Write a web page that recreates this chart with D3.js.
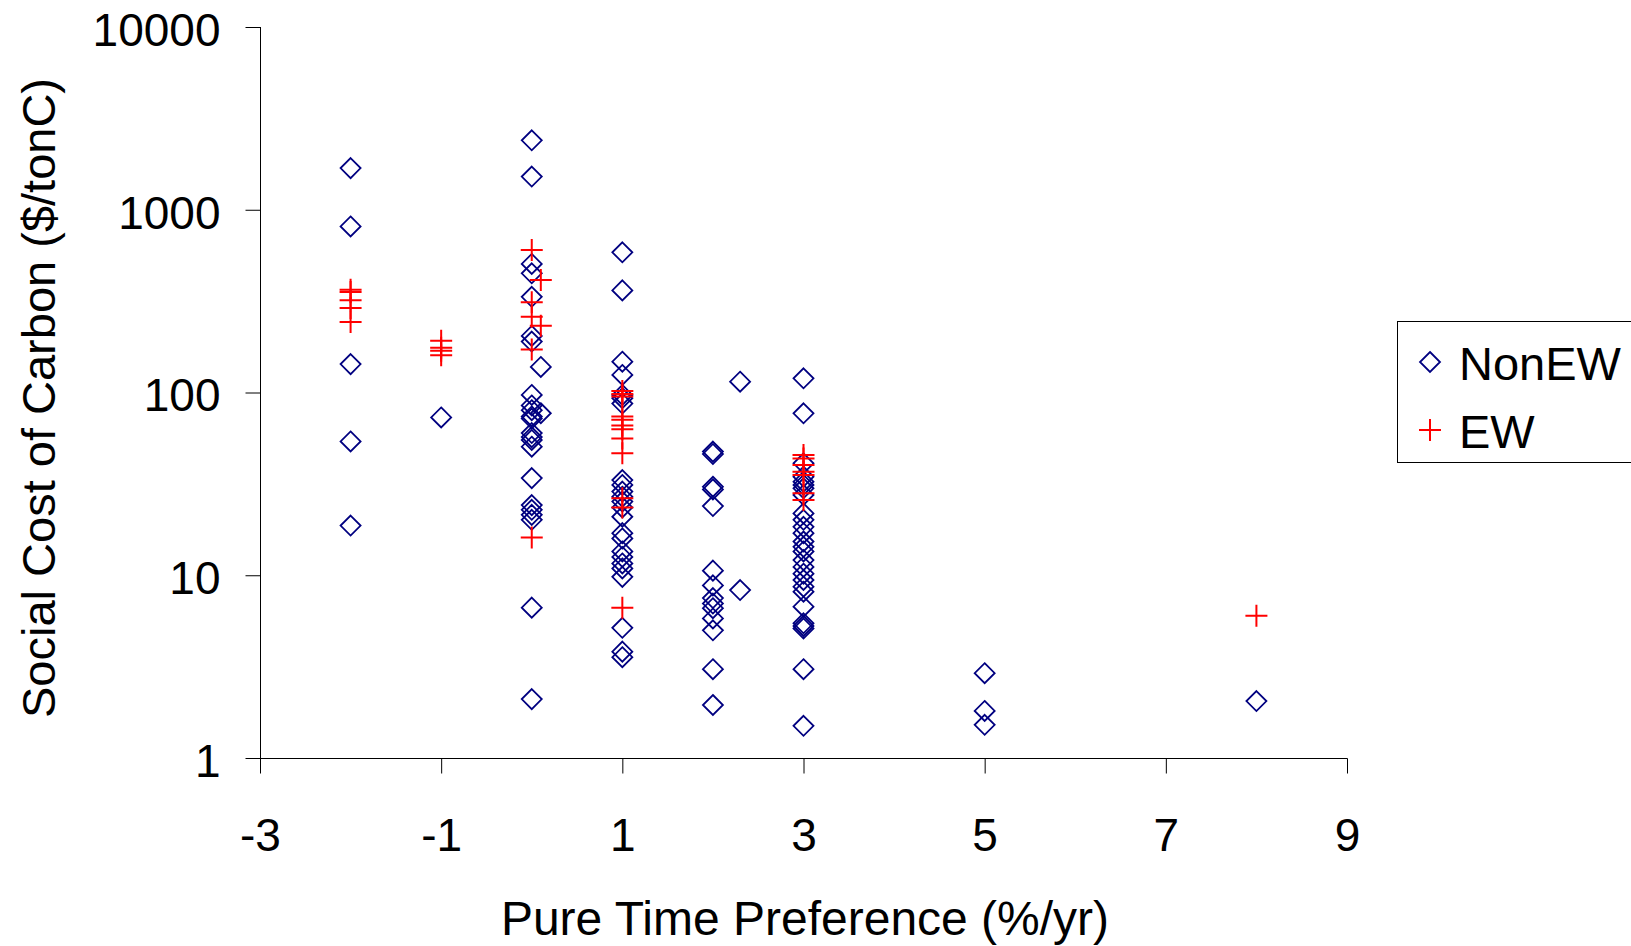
<!DOCTYPE html>
<html>
<head>
<meta charset="utf-8">
<script src="https://cdn.jsdelivr.net/npm/d3@7"></script>
<style>
  body { margin: 0; background: #fff; }
  svg { display: block; }
  text { font-family: "Liberation Sans", Arial, sans-serif; fill: #000; }
</style>
</head>
<body>
<div id="chart"></div>
<script>
var svgWidth = 1631;
var svgHeight = 946;

// x tick values and y tick values (log scale)
var xTicks = [-3, -1, 1, 3, 5, 7, 9];
var yTicks = [1, 10, 100, 1000, 10000];

// NonEW estimates: [pure time preference (%/yr), social cost of carbon ($/tonC)]
var nonEwPoints = [
  [-2, 1690], [-2, 810], [-2, 143], [-2, 54], [-2, 18.7],
  [-1, 73],
  [0, 2400], [0, 1520], [0, 505], [0, 449], [0, 334], [0, 204], [0, 190],
  [0, 97], [0, 85], [0, 80], [0, 74], [0, 72], [0, 60], [0, 57], [0, 55], [0, 50.5],
  [0, 34], [0, 24.2], [0, 22.8], [0, 21.4], [0, 20.1], [0, 6.65], [0, 2.1],
  [0.1, 138], [0.1, 77],
  [1, 585], [1, 362], [1, 147.5], [1, 124.7], [1, 97], [1, 93], [1, 87],
  [1, 33.2], [1, 31.2], [1, 28.7], [1, 26.9], [1, 25.3], [1, 23.5], [1, 20.9],
  [1, 17.0], [1, 15.9], [1, 13.5], [1, 12.6], [1, 11.6], [1, 10.9], [1, 9.8],
  [1, 5.16], [1, 3.82], [1, 3.56],
  [2, 47.5], [2, 46.1], [2, 30.5], [2, 29.5], [2, 23.9], [2, 10.6], [2, 8.8],
  [2, 7.5], [2, 7.0], [2, 6.6], [2, 5.8], [2, 5.0], [2, 3.06], [2, 1.95],
  [2.3, 114.6], [2.3, 8.3],
  [3, 119.6], [3, 76.9], [3, 41], [3, 34.6], [3, 32.5], [3, 31.2], [3, 29.9], [3, 27.5],
  [3, 21.8], [3, 20.1], [3, 18.4], [3, 17.0], [3, 15.3], [3, 14.3], [3, 13.5], [3, 12.1],
  [3, 11.1], [3, 10.2], [3, 9.42], [3, 8.66], [3, 8.13], [3, 6.73], [3, 5.46], [3, 5.28],
  [3, 5.12], [3, 3.06], [3, 1.5],
  [5, 2.91], [5, 1.81], [5, 1.52],
  [8, 2.05]
];

// EW estimates
var ewPoints = [
  [-2, 365], [-2, 355], [-2, 320], [-2, 290], [-2, 243],
  [-1, 192], [-1, 176], [-1, 169], [-1, 160],
  [0, 602], [0, 312], [0, 260], [0, 172], [0, 16.1],
  [0.1, 413], [0.1, 232],
  [1, 102], [1, 98], [1, 95], [1, 74], [1, 71], [1, 66], [1, 63], [1, 56], [1, 46.5],
  [1, 26.4], [1, 23.5], [1, 6.65],
  [3, 45.5], [3, 43.6], [3, 40.1], [3, 36.9], [3, 35.4], [3, 28.1], [3, 25.8],
  [8, 6.0]
];

var seriesNames = ["NonEW", "EW"];

var svg = d3.select("#chart")
  .append("svg")
  .attr("width", svgWidth)
  .attr("height", svgHeight);

var xScale = d3.scaleLinear()
  .domain([-3, 9])
  .range([260, 1347]);

var yScale = d3.scaleLog()
  .domain([1, 10000])
  .range([758, 27]);

// axes
var bottomAxis = d3.axisBottom(xScale)
  .tickValues(xTicks)
  .tickSize(15)
  .tickPadding(45)
  .tickFormat(d => String(d));

var leftAxis = d3.axisLeft(yScale)
  .tickValues(yTicks)
  .tickSize(15)
  .tickPadding(25)
  .tickFormat(d => String(d));

var xAxis = svg.append("g")
  .attr("transform", "translate(0, 758.5)")
  .call(bottomAxis);

var yAxis = svg.append("g")
  .attr("transform", "translate(260.5, 0)")
  .call(leftAxis);

[xAxis, yAxis].forEach(function(ax) {
  ax.select(".domain").attr("stroke", "#000").attr("stroke-width", 1);
  ax.selectAll(".tick line").attr("stroke", "#000").attr("stroke-width", 1);
  ax.selectAll(".tick text")
    .style("font-family", "'Liberation Sans', Arial, sans-serif")
    .style("font-size", "46px")
    .attr("fill", "#000");
});
// plain axis lines, tick marks drawn by the ticks themselves
xAxis.select(".domain").attr("d", "M260,0H1347.5");
yAxis.select(".domain").attr("d", "M0,27V773");
xAxis.selectAll(".tick text").attr("dy", "0.71em");
yAxis.selectAll(".tick text").attr("dy", "0.4em");

// axis titles
svg.append("text")
  .attr("x", 805)
  .attr("y", 935)
  .attr("text-anchor", "middle")
  .style("font-size", "48px")
  .text("Pure Time Preference (%/yr)");

svg.append("text")
  .attr("transform", "translate(55, 398) rotate(-90)")
  .attr("text-anchor", "middle")
  .style("font-size", "47px")
  .text("Social Cost of Carbon ($/tonC)");

// marker shapes
var diamondPath = "M0,-10L10,0L0,10L-10,0Z";
var plusPath = "M-11,0H11M0,-11V11";

var plot = svg.append("g");

plot.selectAll(".nonew")
  .data(nonEwPoints)
  .enter()
  .append("path")
  .attr("class", "nonew")
  .attr("d", diamondPath)
  .attr("transform", d => `translate(${xScale(d[0])}, ${yScale(d[1])})`)
  .attr("fill", "none")
  .attr("stroke", "#000080")
  .attr("stroke-width", 1.8);

plot.selectAll(".ew")
  .data(ewPoints)
  .enter()
  .append("path")
  .attr("class", "ew")
  .attr("d", plusPath)
  .attr("transform", d => `translate(${xScale(d[0])}, ${yScale(d[1])})`)
  .attr("fill", "none")
  .attr("stroke", "#ff0000")
  .attr("stroke-width", 2);

// legend
var legend = svg.append("g");
legend.append("rect")
  .attr("x", 1397.5)
  .attr("y", 321.5)
  .attr("width", 260)
  .attr("height", 141)
  .attr("fill", "#fff")
  .attr("stroke", "#000")
  .attr("stroke-width", 1);

var legendRows = legend.selectAll(".row")
  .data(seriesNames)
  .enter()
  .append("g")
  .attr("class", "row")
  .attr("transform", (d, i) => `translate(1430, ${362 + i * 68})`);

legendRows.append("path")
  .attr("d", (d, i) => i === 0 ? diamondPath : plusPath)
  .attr("fill", "none")
  .attr("stroke", (d, i) => i === 0 ? "#000080" : "#ff0000")
  .attr("stroke-width", (d, i) => i === 0 ? 1.8 : 2);

legendRows.append("text")
  .attr("x", 29)
  .attr("y", 18)
  .style("font-size", "47px")
  .text(d => d);
</script>
</body>
</html>
